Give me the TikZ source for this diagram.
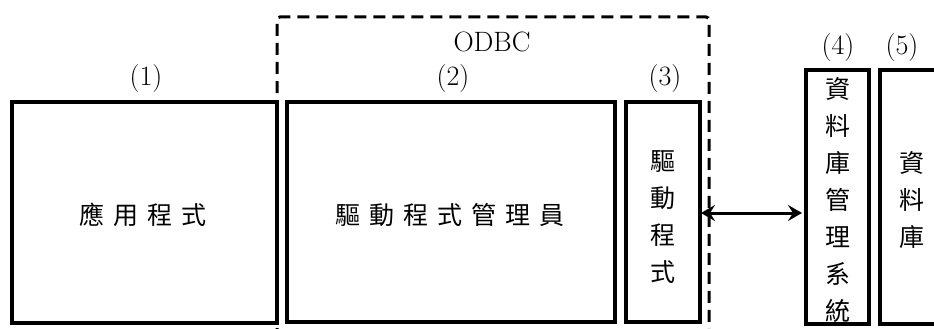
\documentclass[tikz,border=0pt]{standalone}
\usepackage{fontspec}
\newfontfamily\cjk{Noto Sans CJK TC}
\usetikzlibrary{arrows.meta}
\newcommand{\hsp}{\kern9pt}
\begin{document}
\begin{tikzpicture}[x=1pt,y=-1pt,
  box/.style={draw, line width=3.2pt, inner sep=0pt, outer sep=0pt},
  hlabel/.style={font=\cjk\fontsize{25}{34}\selectfont, inner sep=0pt},
  vlabel/.style={font=\cjk\fontsize{25}{37}\selectfont, align=center, inner sep=0pt},
  num/.style={font=\fontsize{28}{30}\selectfont, inner sep=0pt},
  odbcline/.style={line width=3pt, dash pattern=on 12pt off 7pt, rounded corners=3pt}]
\useasboundingbox (0,0) rectangle (934,329);
% dashed ODBC frame
\draw[odbcline] (277,340) -- (277,17) -- (709,17) -- (709,340);
\node[num] (odbc) at (492,42) {ODBC};
% boxes
\node[box, minimum width=265pt, minimum height=221pt] (b1) at (144.5,212.5) {};
\node[box, minimum width=328pt, minimum height=220pt] (b2) at (451,212) {};
\node[box, minimum width=74pt, minimum height=220pt] (b3) at (663,212) {};
\node[box, minimum width=63pt, minimum height=254pt] (b4) at (837.5,197) {};
\coordinate (b5a) at (940,70);
\coordinate (b5b) at (880,70);
\coordinate (b5c) at (880,324);
\coordinate (b5d) at (940,324);
\draw[line width=3.2pt] (b5a) -- (b5b) -- (b5c) -- (b5d);
% numbers
\node[num] (n1) at (146,79) {(1)};
\node[num] (n2) at (453,79) {(2)};
\node[num] (n3) at (665,79) {(3)};
\node[num] (n4) at (838,48) {(4)};
\node[num] (n5) at (902,48) {(5)};
% texts
\node[hlabel] (t1) at (143,215) {應\hsp 用\hsp 程\hsp 式};
\node[hlabel] (t2) at (450,215) {驅\hsp 動\hsp 程\hsp 式\hsp 管\hsp 理\hsp 員};
\node[vlabel] (t3) at (663,217) {驅\\動\\程\\式};
\node[vlabel] (t4) at (838,200) {資\\料\\庫\\管\\理\\系\\統};
\node[vlabel] (t5) at (912,200) {資\\料\\庫};
% arrow
\draw[line width=3pt, {Stealth[length=14pt,width=16pt,inset=5pt]}-{Stealth[length=14pt,width=16pt,inset=5pt]}, shorten >=4pt, shorten <=1pt] (b3.east |- 0,213) -- (b4.west |- 0,213);
\end{tikzpicture}
\end{document}
